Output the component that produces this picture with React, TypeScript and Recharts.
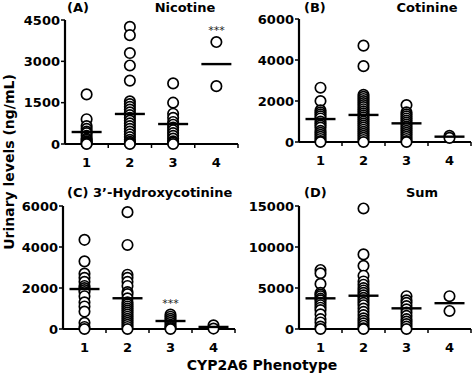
import { ScatterChart, Scatter, XAxis, YAxis } from 'recharts';

// CYP2A6 phenotype groups 1..4, values in ng/mL
const nicotine = [
  [1800, 900, 650, 550, 450, 400, 300, 200, 150, 100, 50, 20, 0],
  [4250, 3950, 3300, 2850, 2300, 1550, 1450, 1350, 1250, 1150, 1050, 950, 850, 750, 650, 550, 450, 350, 250, 150, 80, 30, 0],
  [2200, 1500, 1100, 950, 800, 700, 600, 500, 400, 300, 200, 100, 50, 0],
  [3700, 2100],
];
const nicotineMedians = [435, 1090, 725, 2900];
const nicotineTicks = [0, 1500, 3000, 4500];

const cotinine = [
  [2650, 2000, 1550, 1450, 1350, 1250, 1150, 1000, 900, 800, 700, 550, 450, 350, 250, 150, 50, 0],
  [4700, 3700, 2300, 2200, 2100, 2000, 1900, 1800, 1700, 1600, 1500, 1400, 1300, 1200, 1100, 1000, 900, 800, 700, 600, 500, 400, 300, 200, 100, 0],
  [1800, 1450, 1350, 1250, 1150, 1050, 950, 850, 750, 650, 550, 450, 350, 250, 150, 50, 0],
  [300, 200],
];
const cotinineMedians = [1120, 1320, 910, 260];
const cotinineTicks = [0, 2000, 4000, 6000];

const hydroxy = [
  [4350, 3300, 2700, 2500, 2300, 2100, 2000, 1900, 1800, 1600, 1300, 1100, 850, 300, 100, 0],
  [5700, 4100, 2650, 2500, 2300, 2100, 1800, 1700, 1500, 1300, 1200, 1100, 1000, 900, 800, 700, 600, 500, 400, 300, 200, 100, 0],
  [700, 600, 500, 400, 300, 200, 100, 50, 0],
  [180, 20],
];
const hydroxyMedians = [1950, 1500, 390, 100];
const hydroxyTicks = [0, 2000, 4000, 6000];

const sum = [
  [7200, 6800, 5500, 4400, 4200, 4000, 3700, 3500, 3200, 2900, 2600, 2300, 1800, 1200, 800, 300, 0],
  [14700, 9100, 7700, 6500, 5800, 5400, 5000, 4700, 4400, 4100, 3800, 3500, 3200, 2900, 2500, 2100, 1700, 1300, 1000, 700, 400, 100, 0],
  [4000, 3500, 3200, 2800, 2400, 2000, 1600, 1200, 900, 600, 300, 0],
  [4000, 2200],
];
const sumMedians = [3740, 4060, 2520, 3150];
const sumTicks = [0, 5000, 10000, 15000];

const phenotypeTicks = [1, 1.5, 2, 2.5, 3, 3.5, 4, 4.5];

const FONT = 'DejaVu Sans';

const toPoints = (groups: number[][]) =>
  groups.flatMap((vals, i) => vals.map(v => ({ x: i + 1, y: v })));

const XTick = ({ x, y, payload }: any) => {
  const v = payload.value;
  if (Number.isInteger(v)) {
    return (
      <text x={x} y={y + 23} textAnchor="middle" fontSize={13} fontWeight="bold" fontFamily={FONT} fill="#000">
        {v}
      </text>
    );
  }
  return <line x1={x} x2={x} y1={y} y2={y + 4} stroke="#000" strokeWidth={1.5} />;
};

const Circle = ({ cx, cy }: any) => (
  <circle cx={cx} cy={cy} r={5.2} fill="#fff" stroke="#000" strokeWidth={1.7} />
);

const Median = ({ cx, cy }: any) => (
  <line x1={cx - 15} x2={cx + 15} y1={cy} y2={cy} stroke="#000" strokeWidth={2.4} />
);

const Stars = ({ cx, cy }: any) => (
  <text x={cx} y={cy - 8} textAnchor="middle" fontSize={11} fontFamily={FONT} fill="#222">***</text>
);

interface PanelProps {
  left: number;
  top: number;
  width: number;
  height: number;
  yWidth: number;
  margin: { top: number; right: number; left: number; bottom: number };
  xHeight: number;
  groups: number[][];
  medians: number[];
  ticks: number[];
  stars?: { x: number; y: number }[];
}

function Panel({ left, top, width, height, yWidth, margin, xHeight, groups, medians, ticks, stars }: PanelProps) {
  const medianData = medians.map((m, i) => ({ x: i + 1, y: m }));
  return (
    <div style={{ position: 'absolute', left, top }}>
      <ScatterChart width={width} height={height} margin={margin}>
        <XAxis
          type="number"
          dataKey="x"
          domain={[0.5, 4.5]}
          ticks={phenotypeTicks}
          interval={0}
          tickLine={false}
          tickSize={0}
          tickMargin={0}
          height={xHeight}
          axisLine={{ stroke: '#000', strokeWidth: 2.2 }}
          tick={<XTick />}
        />
        <YAxis
          type="number"
          dataKey="y"
          domain={[0, ticks[ticks.length - 1]]}
          ticks={ticks}
          interval={0}
          width={yWidth}
          tickSize={4}
          tickMargin={1}
          axisLine={{ stroke: '#000', strokeWidth: 2.2 }}
          tickLine={{ stroke: '#000', strokeWidth: 1.5 }}
          tick={{ fontSize: 13, fontWeight: 'bold', fill: '#000', fontFamily: FONT }}
        />
        <Scatter data={toPoints(groups)} shape={<Circle />} isAnimationActive={false} />
        <Scatter data={medianData} shape={<Median />} isAnimationActive={false} />
        {stars && <Scatter data={stars} shape={<Stars />} isAnimationActive={false} />}
      </ScatterChart>
    </div>
  );
}

export default function App() {
  const titleStyle = { fontSize: 13, fontWeight: 'bold' as const, fontFamily: FONT, fill: '#000' };
  return (
    <div style={{ position: 'absolute', left: 0, top: 0, width: 474, height: 375, background: '#fff', overflow: 'hidden' }}>
      <Panel left={0} top={0} width={240} height={185} yWidth={65} xHeight={41}
        margin={{ top: 20, right: 2, left: 0, bottom: 0 }}
        groups={nicotine} medians={nicotineMedians} ticks={nicotineTicks}
        stars={[{ x: 4, y: 3700 }]} />
      <Panel left={237} top={0} width={237} height={185} yWidth={62} xHeight={43}
        margin={{ top: 19, right: 3, left: 0, bottom: 0 }}
        groups={cotinine} medians={cotinineMedians} ticks={cotinineTicks} />
      <Panel left={0} top={185} width={240} height={190} yWidth={63} xHeight={46}
        margin={{ top: 21, right: 5, left: 0, bottom: 0 }}
        groups={hydroxy} medians={hydroxyMedians} ticks={hydroxyTicks}
        stars={[{ x: 3, y: 700 }]} />
      <Panel left={237} top={185} width={237} height={190} yWidth={62} xHeight={46}
        margin={{ top: 21, right: 3, left: 0, bottom: 0 }}
        groups={sum} medians={sumMedians} ticks={sumTicks} />

      <svg width={474} height={375} style={{ position: 'absolute', left: 0, top: 0, pointerEvents: 'none' }}>
        <text x={67} y={12} {...titleStyle}>(A)</text>
        <text x={185} y={12} textAnchor="middle" {...titleStyle}>Nicotine</text>
        <text x={304} y={12} {...titleStyle}>(B)</text>
        <text x={427} y={12} textAnchor="middle" {...titleStyle}>Cotinine</text>
        <text x={67} y={197} {...titleStyle}>(C)</text>
        <text x={93} y={197} {...titleStyle}>3’-Hydroxycotinine</text>
        <text x={304} y={197} {...titleStyle}>(D)</text>
        <text x={422} y={197} textAnchor="middle" {...titleStyle}>Sum</text>
        <text x={9} y={162} transform="rotate(-90 9 162)" textAnchor="middle" dominantBaseline="central"
          fontSize={14} fontWeight="bold" fontFamily={FONT} fill="#000">Urinary levels (ng/mL)</text>
        <text x={262} y={370} textAnchor="middle" fontSize={14} fontWeight="bold" fontFamily={FONT} fill="#000">CYP2A6 Phenotype</text>
      </svg>
    </div>
  );
}
